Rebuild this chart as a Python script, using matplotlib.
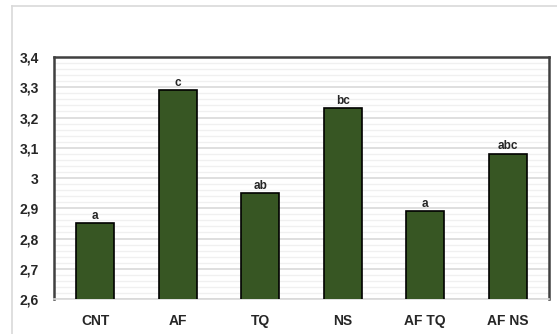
import matplotlib
matplotlib.use("Agg")
import matplotlib.pyplot as plt
from matplotlib.lines import Line2D
from matplotlib.ticker import MultipleLocator, FixedLocator

categories = ["CNT", "AF", "TQ", "NS", "AF TQ", "AF NS"]
values = [2.85, 3.29, 2.95, 3.23, 2.89, 3.08]
letters = ["a", "c", "ab", "bc", "a", "abc"]
y_ticks = [2.6, 2.7, 2.8, 2.9, 3.0, 3.1, 3.2, 3.3, 3.4]
y_labels = ["2,6", "2,7", "2,8", "2,9", "3", "3,1", "3,2", "3,3", "3,4"]

plt.rcParams["font.family"] = ["Liberation Sans", "DejaVu Sans"]

W, H = 557, 334
fig = plt.figure(figsize=(W / 100, H / 100), dpi=100)
fig.patch.set_facecolor("white")

# outer chart frame (top and left edges fall inside the canvas)
fx, fy = 11.5 / W, 1 - 5.5 / H
fig.add_artist(Line2D([fx, 1.0], [fy, fy], transform=fig.transFigure,
                      color="#d9d9d9", linewidth=1.2))
fig.add_artist(Line2D([fx, fx], [0.0, fy], transform=fig.transFigure,
                      color="#d9d9d9", linewidth=1.2))

left, right, top, bottom = 54, 549, 57, 299
ax = fig.add_axes([left / W, 1 - bottom / H, (right - left) / W, (bottom - top) / H])

x = range(len(categories))
ax.bar(x, values, width=0.46, color="#375623", edgecolor="black",
       linewidth=1.2, zorder=3)
for xi, v, t in zip(x, values, letters):
    ax.text(xi, v + 0.005, t, ha="center", va="bottom", fontsize=8.5,
            fontweight="bold", color="#262626", zorder=4)

ax.set_xlim(-0.5, len(categories) - 0.5)
ax.set_ylim(2.6, 3.4)
ax.yaxis.set_major_locator(FixedLocator(y_ticks))
ax.set_yticklabels(y_labels)
ax.yaxis.set_minor_locator(MultipleLocator(0.02))
ax.set_xticks(list(x))
ax.set_xticklabels(categories)

ax.grid(which="major", axis="y", color="#d9d9d9", linewidth=1.2, zorder=0)
ax.grid(which="minor", axis="y", color="#f0f0f0", linewidth=1.0, zorder=0)
ax.tick_params(axis="both", which="both", length=0)
ax.tick_params(axis="y", pad=11, labelsize=10, labelcolor="#262626")
ax.tick_params(axis="x", pad=11, labelsize=10, labelcolor="#262626")
for lab in ax.get_xticklabels() + ax.get_yticklabels():
    lab.set_fontweight("bold")

for side in ["left", "top", "right"]:
    ax.spines[side].set_color("#404040")
    ax.spines[side].set_linewidth(1.8)
ax.spines["bottom"].set_color("#d9d9d9")
ax.spines["bottom"].set_linewidth(1.2)

fig.savefig("out.png", dpi=100)
